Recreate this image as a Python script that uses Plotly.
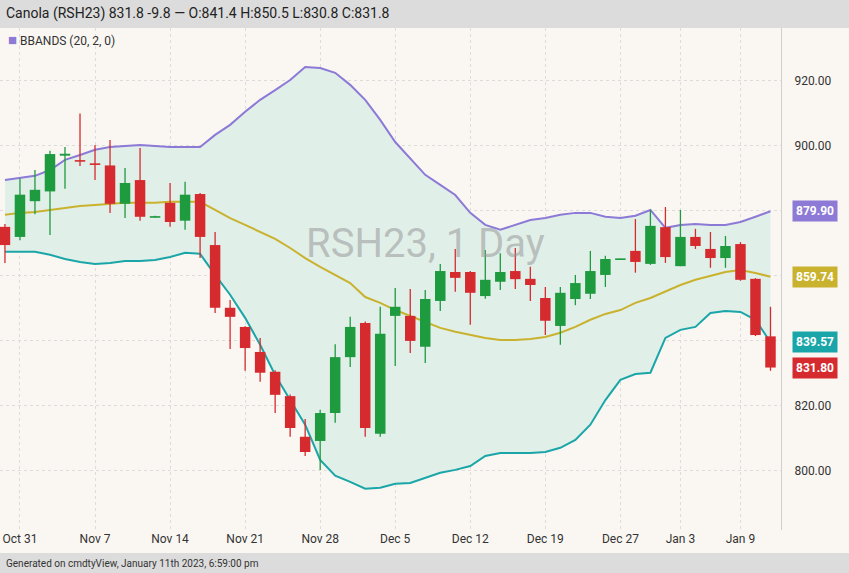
"""Canola RSH23 daily candles with Bollinger bands (cmdtyView style)."""

import plotly.graph_objects as go

dates = ["Oct 28", "Oct 31", "Nov 1", "Nov 2", "Nov 3", "Nov 4", "Nov 7", "Nov 8", "Nov 9", "Nov 10",
         "Nov 11", "Nov 14", "Nov 15", "Nov 16", "Nov 17", "Nov 18", "Nov 21", "Nov 22", "Nov 23", "Nov 24",
         "Nov 25", "Nov 28", "Nov 29", "Nov 30", "Dec 1", "Dec 2", "Dec 5", "Dec 6", "Dec 7", "Dec 8",
         "Dec 9", "Dec 12", "Dec 13", "Dec 14", "Dec 15", "Dec 16", "Dec 19", "Dec 20", "Dec 21", "Dec 22",
         "Dec 23", "Dec 27", "Dec 28", "Dec 29", "Dec 30", "Jan 3", "Jan 4", "Jan 5", "Jan 6", "Jan 9",
         "Jan 10", "Jan 11"]

opens = [875.1, 872, 883, 886, 897, 895.6, 894.6, 894, 882.2, 889.5,
         878, 882.5, 877, 885.2, 869.5, 850.2, 844.3, 836.6, 830.5, 823,
         810.5, 809.2, 817.8, 835, 845.5, 811.4, 847.7, 847.7, 838.2, 852.3,
         861.2, 861.2, 853.8, 858.2, 861.5, 859.1, 853.2, 844.6, 852.9, 854.5,
         860.3, 865.1, 867.7, 863.7, 875, 863, 872, 868.3, 865.5, 869.8,
         859.1, 841.4]
highs = [876, 890, 892.6, 898.5, 899.7, 910, 900.3, 901.8, 893.2, 899.4,
         878.5, 888.6, 889, 885.5, 873.5, 852.6, 844.5, 840.9, 831, 823.5,
         816, 818.8, 839, 847.4, 846, 850.5, 856.3, 856, 855.7, 863.7,
         868.3, 861.5, 868, 867, 868.6, 862.8, 856.6, 856.6, 860.3, 867.7,
         866.2, 865.3, 877.5, 880.3, 881.2, 880.3, 874.5, 873.5, 872.3, 870.4,
         859.3, 850.5]
lows = [864, 871, 879, 872.6, 886.8, 893.8, 889.5, 879.4, 877.8, 877,
        877.9, 875.1, 874.2, 865.5, 848.6, 837.5, 830.8, 827.4, 817.8, 810.5,
        804.6, 800.3, 814.8, 832, 810.5, 810.5, 832.3, 836.3, 833.2, 849.2,
        855.1, 845, 853, 855.7, 856, 852.3, 841.8, 838.8, 851, 852.9,
        856.6, 865.0, 861, 863.4, 864, 863, 868.3, 862.5, 862.5, 858.5,
        841.5, 830.8]
closes = [869.5, 885, 886.5, 897.5, 897.6, 895.2, 894.2, 882.2, 888.6, 878.2,
          878.3, 876.6, 885, 872, 850.2, 847.4, 837.8, 830.2, 823.4, 813.2,
          805.8, 817.8, 835, 844.3, 813.2, 842.2, 850.5, 840, 852.9, 861.5,
          859.4, 854.8, 858.8, 861.2, 859, 857.2, 846.2, 854.8, 857.8, 861.5,
          865.2, 865.2, 864.3, 875.4, 865.8, 872, 869.2, 865.5, 869.2, 858.8,
          841.8, 831.8]

bb_upper = [889.5, 890.2, 890.8, 892.6, 895.7, 897.2, 898.8, 899.7, 900.0, 900.3,
            900.0, 899.7, 899.7, 899.7, 903.4, 906.5, 910.5, 914.2, 917.2, 920.3,
            924.3, 924.0, 922.5, 918.8, 914.2, 908.0, 901.2, 896.3, 891.1, 888.0,
            884.9, 879.4, 875.7, 874.2, 875.7, 877.2, 877.8, 878.8, 879.4, 879.4,
            878.2, 877.8, 878.5, 880.3, 874.8, 875.7, 876.0, 875.7, 875.7, 876.6,
            878.2, 879.9]
bb_mid = [878.8, 879.4, 879.7, 880.3, 880.9, 881.5, 881.8, 882.2, 882.5, 882.5,
          882.5, 882.8, 882.8, 882.8, 880.3, 877.8, 875.7, 873.5, 871.4, 868.6,
          865.5, 862.8, 860.3, 857.8, 853.5, 851.7, 849.5, 847.7, 845.8, 844.0,
          842.8, 841.8, 840.9, 840.3, 840.3, 840.6, 841.2, 842.5, 844.3, 846.5,
          848.3, 849.5, 851.7, 853.2, 855.1, 857.2, 858.8, 860.0, 861.2, 861.8,
          860.9, 859.74]
bb_lower = [867.4, 867.4, 867.4, 866.5, 865.2, 864.3, 863.7, 864.0, 864.6, 864.6,
            864.9, 865.8, 867.1, 866.8, 860.3, 854.2, 847.1, 838.8, 829.5, 821.8,
            814.2, 803.4, 798.5, 796.6, 794.5, 794.8, 796.0, 796.3, 797.8, 799.4,
            800.3, 801.5, 804.6, 805.5, 805.5, 805.5, 805.8, 807.1, 809.5, 814.2,
            821.8, 828.0, 829.8, 830.2, 840.9, 843.4, 844.3, 848.6, 849.2, 848.9,
            846.5, 839.57]

tick_dates = ["Oct 31", "Nov 7", "Nov 14", "Nov 21", "Nov 28", "Dec 5", "Dec 12",
              "Dec 19", "Dec 27", "Jan 3", "Jan 9"]
y_ticks = [800, 820, 840, 860, 880, 900, 920]
y_hidden = [840, 860, 880]  # covered by the value tags in the original

UP, DOWN = "#1e9a3f", "#d52b2e"
PURPLE, GOLD, TEAL = "#8c7ad6", "#c9b22e", "#1aa6a8"
BG = "#faf7f2"

fig = go.Figure()

fig.add_trace(go.Scatter(x=dates, y=bb_lower, mode="lines", line=dict(color=TEAL, width=2),
                         hoverinfo="skip"))
fig.add_trace(go.Scatter(x=dates, y=bb_upper, mode="lines", line=dict(color=PURPLE, width=2),
                         fill="tonexty", fillcolor="#e1efe9", hoverinfo="skip"))
fig.add_trace(go.Scatter(x=dates, y=bb_mid, mode="lines", line=dict(color=GOLD, width=2),
                         hoverinfo="skip"))

# candles drawn as scatter segments so they sit above the band fill
for is_up, col in [(True, UP), (False, DOWN)]:
    wx, wy, bx, by = [], [], [], []
    for d, o, h, l, c in zip(dates, opens, highs, lows, closes):
        if (c >= o) != is_up:
            continue
        wx += [d, d, None]
        wy += [l, h, None]
        lo, hi = min(o, c), max(o, c)
        if hi - lo < 0.5:
            mid = (hi + lo) / 2
            lo, hi = mid - 0.25, mid + 0.25
        bx += [d, d, None]
        by += [lo, hi, None]
    fig.add_trace(go.Scatter(x=wx, y=wy, mode="lines", line=dict(color=col, width=1.3),
                             hoverinfo="skip"))
    fig.add_trace(go.Scatter(x=bx, y=by, mode="lines", line=dict(color=col, width=10.5),
                             hoverinfo="skip"))

fig.update_layout(
    width=849, height=573,
    margin=dict(l=0, r=68, t=28, b=43),
    paper_bgcolor=BG, plot_bgcolor=BG,
    showlegend=False,
    font=dict(family="Roboto, Arial, sans-serif", size=12, color="#333"),
    xaxis=dict(type="category", range=[-0.33, 51.7],
               tickmode="array", tickvals=tick_dates, ticktext=tick_dates,
               showgrid=True, gridcolor="#dcdcdc", griddash="dot", ticks="", zeroline=False,
               tickfont=dict(size=12, color="#333")),
    yaxis=dict(side="right", range=[781.8, 936.3], tickvals=y_ticks,
               ticktext=["" if v in y_hidden else f"{v:.2f}" for v in y_ticks],
               showgrid=True, gridcolor="#dcdcdc",
               griddash="dot", zeroline=False, showline=True, linecolor="#cfcfcf",
               ticks="", ticklabelstandoff=10, tickfont=dict(size=12, color="#333")),
)

# header and footer bars
fig.add_shape(type="rect", xref="paper", yref="paper", x0=-0.01, x1=1.2, y0=1.0, y1=1.06,
              fillcolor="#dcdcdc", line_width=0, layer="below")
fig.add_shape(type="rect", xref="paper", yref="paper", x0=-0.01, x1=1.2, y0=-0.046, y1=-0.09,
              fillcolor="#dcdcdc", line_width=0, layer="below")
fig.add_annotation(xref="paper", yref="paper", x=0.005, y=1.028, xanchor="left", yanchor="middle",
                   text="Canola (RSH23) 831.8 -9.8 — O:841.4 H:850.5 L:830.8 C:831.8",
                   showarrow=False, font=dict(size=14, color="#222"))
fig.add_annotation(xref="paper", yref="paper", x=0.005, y=-0.066, xanchor="left", yanchor="middle",
                   text="Generated on cmdtyView, January 11th 2023, 6:59:00 pm",
                   showarrow=False, font=dict(size=10, color="#333"))

# legend label
fig.add_annotation(xref="paper", yref="paper", x=0.008, y=0.977, xanchor="left", yanchor="middle",
                   text="<span style='color:#8c7ad6;font-size:15px'>■</span> BBANDS (20, 2, 0)",
                   showarrow=False, font=dict(size=12, color="#333"))

# watermark
fig.add_annotation(xref="paper", yref="paper", x=0.545, y=0.57, text="RSH23, 1 Day",
                   showarrow=False, font=dict(size=40, color="rgba(150,150,150,0.55)"))

# last value tags
for val, col in [(bb_upper[-1], PURPLE), (bb_mid[-1], GOLD), (bb_lower[-1], TEAL), (closes[-1], DOWN)]:
    fig.add_annotation(xref="paper", yref="y", x=1.014, y=val, xanchor="left", yanchor="middle",
                       text=f"<b>{val:.2f}</b>", showarrow=False, bgcolor=col, borderpad=3,
                       font=dict(size=12, color="white"))

fig.write_html("out.html", config={"displayModeBar": False},
               post_script="document.body.style.margin='0';")
